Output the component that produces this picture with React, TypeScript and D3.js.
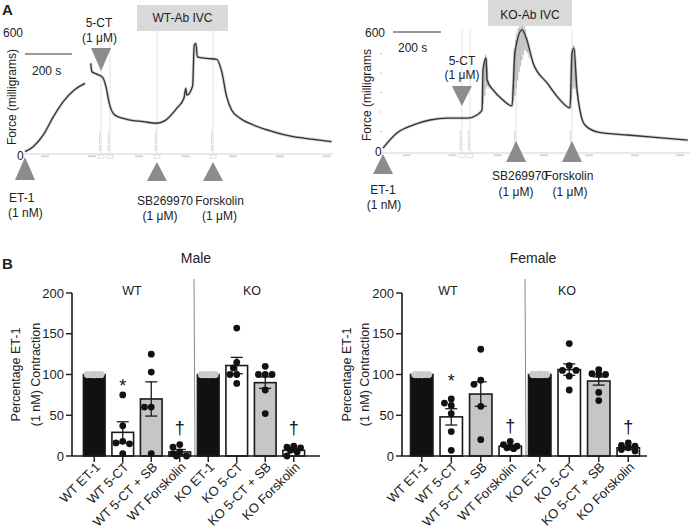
import React from "react";
import * as d3 from "d3";

// ================= Panel A data (time in s, force in mg) =================
const wtTraceSeg1: [number, number][] = [
  [0, 2], [35, 27], [78, 86], [121, 178], [163, 254], [206, 309], [256, 346],
];
const wtTraceSeg2: [number, number][] = [
  [280, 447], [285, 405], [305, 393], [331, 376], [345, 329], [359, 245], [383, 186],
  [433, 165], [504, 153], [561, 145], [596, 158], [646, 220], [677, 271], [685, 321],
  [689, 287], [714, 333], [721, 539], [728, 548], [734, 480], [774, 472], [817, 467],
  [838, 405], [859, 279], [880, 212], [916, 170], [973, 136], [1058, 102], [1143, 77],
  [1228, 64], [1306, 52],
];
const koTrace: [number, number][] = [
  [0, 15], [58, 92], [125, 133], [196, 159], [267, 169], [354, 169], [392, 185],
  [413, 210], [417, 416], [430, 477], [434, 364], [459, 313], [500, 262], [538, 231],
  [550, 503], [580, 621], [600, 569], [626, 451], [684, 349], [738, 262], [780, 221],
  [788, 503], [796, 528], [809, 313], [821, 210], [842, 133], [896, 97], [1021, 82],
  [1163, 67], [1271, 56],
];
// oscillation envelopes [time, low, high]
const koSpike5CT: [number, number, number][] = [
  [413, 210, 210], [420, 250, 450], [427, 300, 500], [434, 340, 420], [442, 320, 330],
];
const koSpikeSB: [number, number, number][] = [
  [538, 231, 231], [546, 260, 520], [556, 320, 590], [567, 400, 640], [580, 470, 640],
  [592, 520, 640], [604, 500, 560], [612, 470, 480],
];
const koSpikeFsk: [number, number, number][] = [
  [780, 221, 221], [786, 260, 470], [792, 320, 550], [800, 330, 530], [808, 300, 360],
  [815, 260, 265],
];
const eventNames = ["ET-1", "5-CT", "SB269970", "Forskolin"];
const eventConc = ["(1 nM)", "(1 \u03BCM)", "(1 \u03BCM)", "(1 \u03BCM)"];
const wtEventTimes = [0, 324, 562, 801];
const koEventTimes = [0, 329, 555, 788];
const wtWashTimes = [362];
const koWashTimes = [363];
const wtClockTicks = [85, 285, 485, 685, 885, 1085, 1285];
const koClockTicks = [100, 290, 480, 670, 860, 1050, 1240];
const koForceTicks = [100, 200, 300, 400, 500];
const scaleBarSeconds = 200;

// ================= Panel B data =================
const categories = [
  "WT ET-1", "WT 5-CT", "WT 5-CT + SB", "WT Forskolin",
  "KO ET-1", "KO 5-CT", "KO 5-CT + SB", "KO Forskolin",
];
const yTicks = [0, 50, 100, 150, 200];
const maleMeans = [100, 29, 70, 5, 100, 111, 90, 7];
const maleSem = [0, 13, 21, 3, 0, 10, 7, 2];
const malePoints = [
  [100, 100, 100, 100, 100, 100],
  [75, 37, 18, 16, 15, 3],
  [125, 103, 60, 60, 3],
  [14, 11, 5, 3, 0, 0],
  [100, 100, 100, 100, 100, 100],
  [157, 115, 108, 100, 100, 89],
  [110, 100, 100, 100, 81, 52],
  [12, 11, 10, 7, 5, 0],
];
const femaleMeans = [100, 48, 76, 12, 100, 106, 92, 10];
const femaleSem = [0, 10, 15, 1.5, 0, 7, 5, 2];
const femalePoints = [
  [100, 100, 100, 100, 100, 100],
  [70, 65, 62, 52, 30, 7],
  [131, 93, 88, 61, 20],
  [18, 14, 12, 11, 10, 9],
  [100, 100, 100, 100, 100, 100],
  [138, 111, 105, 105, 98, 81],
  [106, 101, 100, 100, 78, 68],
  [16, 13, 12, 10, 8, 6],
];
const maleMarks = [
  { cat: "WT 5-CT", sym: "*", v: 79 },
  { cat: "WT Forskolin", sym: "\u2020", v: 27 },
  { cat: "KO Forskolin", sym: "\u2020", v: 27 },
];
const femaleMarks = [
  { cat: "WT 5-CT", sym: "*", v: 85 },
  { cat: "WT Forskolin", sym: "\u2020", v: 29 },
  { cat: "KO Forskolin", sym: "\u2020", v: 28 },
];

// styles
const FONT = "Liberation Sans, Arial, Helvetica, sans-serif";
const TXT = "#222";
const barFill = (c: string) =>
  c.includes("ET-1") ? "#111" : c.includes("+ SB") ? "#c6c6c6" : "#fff";

function swarm(vals: number[], y: (v: number) => number, r: number, maxOff: number) {
  const placed: { dx: number; py: number }[] = [];
  const step = r;
  const cands: number[] = [0];
  for (let k = 1; k * step <= maxOff + 0.01; k++) cands.push(-k * step, k * step);
  vals.forEach((v) => {
    const py = y(v);
    let best = 0, bestD = -1;
    for (const c of cands) {
      let md = Infinity;
      for (const p of placed) md = Math.min(md, Math.hypot(p.dx - c, p.py - py));
      if (md >= 2 * r * 0.95) { best = c; bestD = Infinity; break; }
      if (md > bestD) { bestD = md; best = c; }
    }
    placed.push({ dx: best, py });
  });
  return placed;
}

function BarPanel(props: {
  means: number[]; sem: number[]; points: number[][]; rx: [number, number];
  axisX: number; axisEnd: number; title: string; titleX: number;
  wtX: number; koX: number; labX1: number; labX2: number;
  marks: { cat: string; sym: string; v: number }[];
}) {
  const { means, sem, points, rx, axisX, axisEnd } = props;
  const y = d3.scaleLinear().domain([0, 200]).range([456, 293]);
  const x = d3.scaleBand<string>().domain(categories).range(rx).paddingInner(0.24).paddingOuter(0.12);
  const bw = x.bandwidth();
  const cx = (c: string) => (x(c) as number) + bw / 2;
  const r = 3.4;
  const divX = cx(categories[3]) + x.step() / 2;
  const labY = (y(0) + y(200)) / 2;
  return (
    <g fontFamily={FONT} fill={TXT}>
      <text x={props.titleX} y={263} fontSize={14} textAnchor="middle">{props.title}</text>
      <text x={props.wtX} y={295} fontSize={12.5} textAnchor="middle">WT</text>
      <text x={props.koX} y={295} fontSize={12.5} textAnchor="middle">KO</text>
      <line x1={divX} y1={279} x2={divX + 1} y2={y(0)} stroke="#8a8a8a" strokeWidth={1} />
      <text transform={`translate(${props.labX1},${labY}) rotate(-90)`} fontSize={12.5} textAnchor="middle">Percentage ET-1</text>
      <text transform={`translate(${props.labX2},${labY}) rotate(-90)`} fontSize={12.5} textAnchor="middle">(1 nM) Contraction</text>
      {categories.map((c, i) => (
        <rect key={c} x={x(c)} y={y(means[i])} width={bw} height={y(0) - y(means[i])}
          fill={barFill(c)} stroke="#1a1a1a" strokeWidth={1.6} />
      ))}
      {categories.map((c, i) =>
        sem[i] > 0 ? (
          <g key={c} stroke="#1a1a1a" strokeWidth={1.3}>
            <line x1={cx(c)} x2={cx(c)} y1={y(means[i] + sem[i])} y2={y(means[i] - sem[i])} />
            <line x1={cx(c) - 6} x2={cx(c) + 6} y1={y(means[i] + sem[i])} y2={y(means[i] + sem[i])} />
            <line x1={cx(c) - 6} x2={cx(c) + 6} y1={y(means[i] - sem[i])} y2={y(means[i] - sem[i])} />
          </g>
        ) : null
      )}
      {categories.map((c, i) => {
        const sw = swarm(points[i], y, r, bw / 2 - r + 1);
        const isRef = c.includes("ET-1");
        return sw.map((p, j) => (
          <circle key={c + j} cx={cx(c) + p.dx} cy={p.py} r={r}
            fill={isRef ? "#c9c9c9" : "#111"} stroke={isRef ? "#dcdcdc" : "none"} strokeWidth={0.5} />
        ));
      })}
      {props.marks.map((m) => (
        <text key={m.cat} x={cx(m.cat)} y={y(m.v)} fontSize={18} textAnchor="middle" fill="#111">{m.sym}</text>
      ))}
      <line x1={axisX} x2={axisX} y1={y(200)} y2={y(0)} stroke="#1a1a1a" strokeWidth={1.6} />
      <line x1={axisX} x2={axisEnd} y1={y(0)} y2={y(0)} stroke="#1a1a1a" strokeWidth={1.6} />
      {yTicks.map((t) => (
        <g key={t}>
          <line x1={axisX - 6} x2={axisX} y1={y(t)} y2={y(t)} stroke="#1a1a1a" strokeWidth={1.4} />
          <text x={axisX - 8} y={y(t)} dy="0.36em" fontSize={13} textAnchor="end">{t}</text>
        </g>
      ))}
      {categories.map((c) => (
        <g key={c}>
          <line x1={cx(c)} x2={cx(c)} y1={y(0)} y2={y(0) + 6} stroke="#1a1a1a" strokeWidth={1.4} />
          <text transform={`translate(${cx(c) + 4},${y(0) + 9}) rotate(-45)`} fontSize={13} textAnchor="end" dy="0.3em">{c}</text>
        </g>
      ))}
    </g>
  );
}

function TracePanel(props: {
  x0: number; y0: number; yTop: number; pxPerS: number;
  segs: [number, number][][]; spikes: [number, number, number][][];
  events: number[]; washes: number[]; clock: number[]; axisFrom: number; axisTo: number; axisY: number;
  forceTicks?: number[];
}) {
  const x = d3.scaleLinear().domain([0, 1]).range([props.x0, props.x0 + props.pxPerS]);
  const y = d3.scaleLinear().domain([0, 600]).range([props.y0, props.yTop]);
  const line = d3.line<[number, number]>().x((d) => x(d[0])).y((d) => y(d[1])).curve(d3.curveMonotoneX);
  const zig = (s: [number, number, number][]) => {
    const tLo = d3.scaleLinear().domain(s.map((d) => d[0])).range(s.map((d) => d[1]));
    const tHi = d3.scaleLinear().domain(s.map((d) => d[0])).range(s.map((d) => d[2]));
    const t0 = s[0][0], t1 = s[s.length - 1][0];
    const n = Math.max(2, Math.round((x(t1) - x(t0)) / 0.7));
    const pts: [number, number][] = d3.range(n + 1).map((k) => {
      const t = t0 + ((t1 - t0) * k) / n;
      return [x(t), y(k % 2 ? tHi(t) : tLo(t))];
    });
    return "M" + pts.map((p) => p.join(",")).join("L");
  };
  return (
    <g>
      <line x1={props.axisFrom} x2={props.axisTo} y1={props.axisY} y2={props.axisY} stroke="#d4d4d4" strokeWidth={1} />
      {props.clock.map((t) => (
        <rect key={t} x={x(t) - 4} y={props.axisY + 1.5} width={8} height={1.6} fill="#d0d0d0" />
      ))}
      {(props.forceTicks || []).map((f) => (
        <line key={f} x1={props.axisFrom} x2={props.axisFrom + 2} y1={y(f)} y2={y(f)} stroke="#c8c8c8" strokeWidth={1} />
      ))}
      {[...props.events.slice(1), ...props.washes].map((t, i) => (
        <g key={i}>
          <line x1={x(t)} x2={x(t)} y1={props.yTop - 4} y2={props.axisY + 2} stroke="#e2e2e2" strokeWidth={1} />
          <line x1={x(t) - 1.5} x2={x(t) - 1.5} y1={props.axisY - 22} y2={props.axisY - 3} stroke="#b5b5b5" strokeWidth={1.2} strokeDasharray="1 1.2" />
          <rect x={x(t) - 3} y={props.axisY + 0.5} width={6} height={4} fill="none" stroke="#cfcfcf" strokeWidth={0.6} />
        </g>
      ))}
      {props.spikes.map((s, i) => (
        <path key={i} d={zig(s)} fill="none" stroke="#b8b8b8" strokeWidth={0.8} />
      ))}
      {props.segs.map((s, i) => (
        <g key={i}>
          <path d={line(s) || ""} fill="none" stroke="#9a9a9a" strokeWidth={3} strokeOpacity={0.45} strokeLinejoin="round" />
          <path d={line(s) || ""} fill="none" stroke="#333" strokeWidth={1.3} strokeLinejoin="round" />
        </g>
      ))}
    </g>
  );
}

function Tri({ cx, tip, base, up }: { cx: number; tip: number; base: number; up: boolean }) {
  const hw = 10;
  const d = up
    ? `M${cx},${tip} L${cx + hw},${base} L${cx - hw},${base} Z`
    : `M${cx - hw},${base} L${cx + hw},${base} L${cx},${tip} Z`;
  return <path d={d} fill="#8c8c8c" />;
}

export default function App() {
  const wtPx = 1 / 4.26;
  const koPx = 1 / 4.17;
  const wx = (t: number) => 25 + t * wtPx;
  const kx = (t: number) => 383 + t * koPx;
  return (
    <div style={{ position: "absolute", left: 0, top: 0 }}>
      <svg width={690} height={532} style={{ display: "block", background: "#fff" }}>
        <g fontFamily={FONT} fill={TXT} fontSize={12}>
          <text x={2} y={15} fontSize={15} fontWeight="bold">A</text>
          <text x={2} y={269} fontSize={15} fontWeight="bold">B</text>

          {/* ---------- WT trace ---------- */}
          <rect x={137} y={5} width={91} height={26} fill="#d9d9d9" />
          <text x={182.5} y={22} textAnchor="middle">WT-Ab IVC</text>
          <TracePanel x0={25} y0={152} yTop={33} pxPerS={wtPx} segs={[wtTraceSeg1, wtTraceSeg2]} spikes={[]}
            events={wtEventTimes} washes={wtWashTimes} clock={wtClockTicks} axisFrom={23} axisTo={333} axisY={154} />
          <text x={3} y={37}>600</text>
          <text x={17} y={160}>0</text>
          <line x1={wx(0)} x2={wx(scaleBarSeconds)} y1={54} y2={54} stroke="#333" strokeWidth={1.2} />
          <text x={32} y={75}>{`${scaleBarSeconds} s`}</text>
          <text transform="translate(16,97) rotate(-90)" textAnchor="middle">Force (milligrams)</text>
          <Tri cx={wx(wtEventTimes[0])} tip={157} base={180} up />
          <text x={9} y={202}>{eventNames[0]}</text>
          <text x={8} y={217}>{eventConc[0]}</text>
          <Tri cx={wx(wtEventTimes[1])} tip={71} base={48} up={false} />
          <text x={99} y={27} textAnchor="middle">{eventNames[1]}</text>
          <text x={99.5} y={42} textAnchor="middle">{eventConc[1]}</text>
          <Tri cx={wx(wtEventTimes[2])} tip={162} base={181} up />
          <text x={165} y={205} textAnchor="middle">{eventNames[2]}</text>
          <text x={160} y={220} textAnchor="middle">{eventConc[2]}</text>
          <Tri cx={wx(wtEventTimes[3])} tip={162} base={181} up />
          <text x={219.5} y={205} textAnchor="middle">{eventNames[3]}</text>
          <text x={219.5} y={220} textAnchor="middle">{eventConc[3]}</text>

          {/* ---------- KO trace ---------- */}
          <rect x={488} y={0} width={84} height={26} fill="#d9d9d9" />
          <text x={530} y={19} textAnchor="middle">KO-Ab IVC</text>
          <TracePanel x0={383} y0={151} yTop={34} pxPerS={koPx} segs={[koTrace]} spikes={[koSpike5CT, koSpikeSB, koSpikeFsk]}
            events={koEventTimes} washes={koWashTimes} clock={koClockTicks} axisFrom={380} axisTo={690} axisY={153}
            forceTicks={koForceTicks} />
          <text x={365} y={37}>600</text>
          <text x={375} y={156}>0</text>
          <line x1={kx(0) + 10} x2={kx(0) + 10 + scaleBarSeconds * koPx} y1={32} y2={32} stroke="#333" strokeWidth={1.2} />
          <text x={398} y={52}>{`${scaleBarSeconds} s`}</text>
          <text transform="translate(371,95) rotate(-90)" textAnchor="middle">Force (milligrams</text>
          <Tri cx={kx(koEventTimes[0])} tip={154} base={174} up />
          <text x={383} y={194} textAnchor="middle">{eventNames[0]}</text>
          <text x={384} y={209} textAnchor="middle">{eventConc[0]}</text>
          <Tri cx={kx(koEventTimes[1])} tip={106} base={86} up={false} />
          <text x={462} y={65} textAnchor="middle">{eventNames[1]}</text>
          <text x={462} y={79} textAnchor="middle">{eventConc[1]}</text>
          <Tri cx={kx(koEventTimes[2])} tip={141} base={162} up />
          <text x={520} y={180} textAnchor="middle">{eventNames[2]}</text>
          <text x={516} y={196} textAnchor="middle">{eventConc[2]}</text>
          <Tri cx={kx(koEventTimes[3])} tip={141} base={162} up />
          <text x={569} y={180} textAnchor="middle">{eventNames[3]}</text>
          <text x={570} y={196} textAnchor="middle">{eventConc[3]}</text>
        </g>

        {/* ---------- Panel B ---------- */}
        <BarPanel means={maleMeans} sem={maleSem} points={malePoints} rx={[80, 308]} axisX={72} axisEnd={320}
          title="Male" titleX={196} wtX={132} koX={252} labX1={20} labX2={40} marks={maleMarks} />
        <BarPanel means={femaleMeans} sem={femaleSem} points={femalePoints} rx={[407, 643]} axisX={402} axisEnd={647}
          title="Female" titleX={533} wtX={448} koX={567} labX1={351} labX2={369} marks={femaleMarks} />
      </svg>
    </div>
  );
}
